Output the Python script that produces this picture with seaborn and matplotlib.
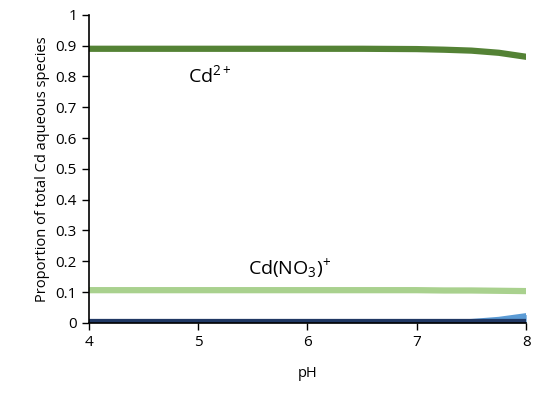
import matplotlib
matplotlib.use("Agg")
import matplotlib.pyplot as plt
import seaborn as sns
import pandas as pd

# pH values and proportions of Cd species
ph = [4.0, 4.5, 5.0, 5.5, 6.0, 6.5, 7.0, 7.25, 7.5, 7.75, 8.0]
cd2 = [0.890, 0.890, 0.890, 0.890, 0.890, 0.890, 0.889, 0.887, 0.884, 0.877, 0.864]
cdno3 = [0.106, 0.106, 0.106, 0.106, 0.106, 0.106, 0.106, 0.105, 0.105, 0.104, 0.103]
cdoh = [0.0, 0.0, 0.0, 0.0, 0.0, 0.0005, 0.002, 0.004, 0.008, 0.015, 0.027]
cdother = [0.003, 0.003, 0.003, 0.003, 0.003, 0.003, 0.003, 0.003, 0.003, 0.003, 0.003]

sns.set_style("ticks")
plt.rcParams['font.family'] = ['Open Sans', 'DejaVu Sans']
plt.rcParams['text.color'] = 'black'
plt.rcParams['axes.labelcolor'] = 'black'
plt.rcParams['mathtext.fontset'] = 'custom'
plt.rcParams['mathtext.rm'] = 'Open Sans'
plt.rcParams['mathtext.default'] = 'rm'

df = pd.DataFrame({"pH": ph, "Cd2": cd2, "CdNO3": cdno3, "CdOH": cdoh, "other": cdother})

fig = plt.figure(figsize=(5.38, 4.03), dpi=100)
ax = fig.add_axes([0.165, 0.199, 0.813, 0.764])

ax.fill_between(df["pH"], 0, df["CdOH"], color="#5b9bd5", lw=0)
sns.lineplot(data=df, x="pH", y="CdOH", ax=ax, color="#5b9bd5", lw=2)
sns.lineplot(data=df, x="pH", y="other", ax=ax, color="#203864", lw=4.5)
sns.lineplot(data=df, x="pH", y="CdNO3", ax=ax, color="#a9d18e", lw=4.5)
sns.lineplot(data=df, x="pH", y="Cd2", ax=ax, color="#548235", lw=4.5)

ax.set_xlim(4, 8)
ax.set_ylim(0, 1)
ax.set_xticks([4, 5, 6, 7, 8])
ax.set_yticks([i / 10 for i in range(11)])
ax.set_yticklabels(["0", "0.1", "0.2", "0.3", "0.4", "0.5", "0.6", "0.7", "0.8", "0.9", "1"])
ax.tick_params(labelsize=11, length=5, width=1, colors="black")
ax.set_xlabel("pH", fontsize=10.5, labelpad=12)
ax.set_ylabel("Proportion of total Cd aqueous species", fontsize=10.5)
sns.despine(ax=ax)
for s in ["left", "bottom"]:
    ax.spines[s].set_linewidth(1.2)
    ax.spines[s].set_color("black")

ax.text(5.11, 0.805, "Cd$^{2+}$", fontsize=14, ha="center", va="center")
ax.text(5.84, 0.175, "Cd(NO$_3$)$^{+}$", fontsize=14, ha="center", va="center")

fig.savefig("out.png", dpi=100)
